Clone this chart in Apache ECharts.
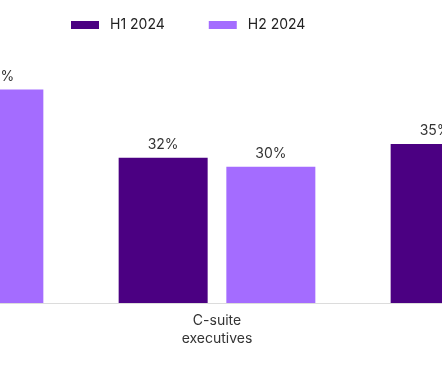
<!DOCTYPE html>
<html>
<head>
<meta charset="utf-8">
<script src="https://cdn.jsdelivr.net/npm/echarts@6/dist/echarts.min.js"></script>
<style>
html,body{margin:0;padding:0;background:#fff;overflow:hidden;width:442px;height:369px;position:relative;}
#chart{position:absolute;left:-191px;top:0;width:900px;height:369px;}
</style>
</head>
<body>
<div id="chart"></div>
<script>
// Categories: only the middle one is fully visible in the reference crop
const categories = ['', 'C-suite\nexecutives', ''];
const seriesNames = ['H1 2024', 'H2 2024'];
const h1Values = [null, 32, 35];
const h2Values = [47, 30, null];

const FONT = 'Inter, "Noto Sans", sans-serif';
const chart = echarts.init(document.getElementById('chart'), null, {renderer: 'canvas'});
chart.setOption({
  animation: false,
  legend: {
    left: 257,
    top: 13,
    itemWidth: 28,
    itemHeight: 8,
    itemGap: 44,
    icon: 'rect',
    textStyle: {fontFamily: FONT, fontSize: 14, color: '#222', padding: [0, 0, 0, 6]},
    data: seriesNames
  },
  grid: {left: 0, width: 816, top: 76, bottom: 66},
  xAxis: {
    type: 'category',
    data: categories,
    axisTick: {show: false},
    axisLine: {lineStyle: {color: '#dcdcdc', width: 1}},
    axisLabel: {fontFamily: FONT, fontSize: 14, color: '#333', lineHeight: 18, margin: 9}
  },
  yAxis: {type: 'value', min: 0, max: 50, show: false, splitLine: {show: false}},
  series: [
    {
      name: seriesNames[0], type: 'bar', data: h1Values, barWidth: 89, barGap: '21%',
      itemStyle: {color: '#4B0082'},
      label: {show: true, position: 'top', distance: 6, formatter: '{c}%', fontFamily: FONT, fontSize: 14, color: '#333'}
    },
    {
      name: seriesNames[1], type: 'bar', data: h2Values, barWidth: 89,
      itemStyle: {color: '#A46CFF'},
      label: {show: true, position: 'top', distance: 6, formatter: '{c}%', fontFamily: FONT, fontSize: 14, color: '#333'}
    }
  ]
});
</script>
</body>
</html>
